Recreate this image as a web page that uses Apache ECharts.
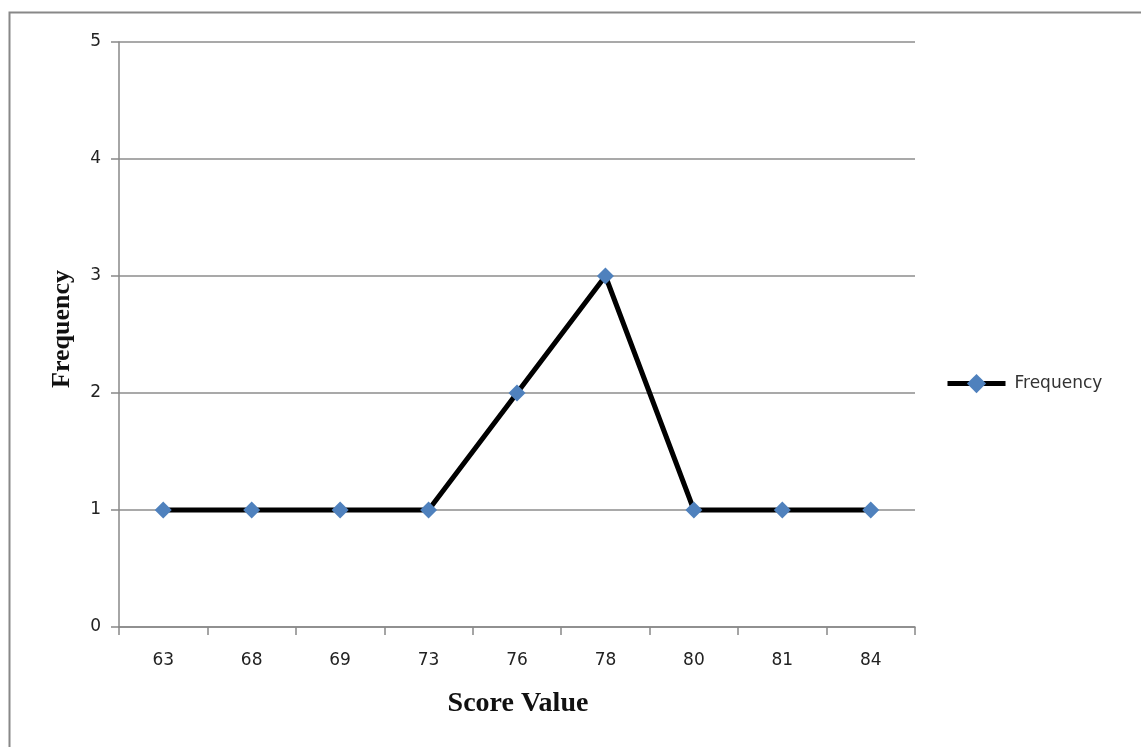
<!DOCTYPE html>
<html>
<head>
<meta charset="utf-8">
<script src="https://cdn.jsdelivr.net/npm/echarts@6/dist/echarts.min.js"></script>
<style>html,body{margin:0;padding:0;background:#fff}#c{width:1141px;height:747px}</style>
</head>
<body>
<div id="c"></div>
<script>
const categories = ['63', '68', '69', '73', '76', '78', '80', '81', '84'];
const frequency = [1, 1, 1, 1, 2, 3, 1, 1, 1];
const seriesName = 'Frequency';
const xTitle = 'Score Value';
const yTitle = 'Frequency';

const chart = echarts.init(document.getElementById('c'), null, {renderer: 'canvas'});
chart.setOption({
  backgroundColor: '#fff',
  animation: false,
  graphic: [{
    type: 'rect', shape: {x: 9.5, y: 12.5, width: 1200, height: 800},
    style: {fill: 'none', stroke: '#888', lineWidth: 2}, silent: true, z: -1
  }, {
    type: 'text', x: 518, y: 704,
    style: {text: xTitle, font: 'bold 28px "Liberation Serif"', fill: '#111', align: 'center', verticalAlign: 'middle'}
  }, {
    type: 'text', x: 62, y: 329, rotation: Math.PI / 2,
    style: {text: yTitle, font: 'bold 26px "Liberation Serif"', fill: '#111', align: 'center', verticalAlign: 'middle'}
  }],
  grid: {left: 119, right: 226, top: 42, bottom: 120, containLabel: false},
  legend: {
    show: true, orient: 'vertical', left: 940, top: 369,
    itemWidth: 58, itemHeight: 24, itemGap: 4,
    lineStyle: {width: 5, color: '#000'},
    itemStyle: {color: '#4F81BD'},
    textStyle: {fontFamily: 'DejaVu Sans', fontSize: 17, color: '#333', padding: [0, 0, 0, 4]},
    data: [seriesName]
  },
  xAxis: {
    type: 'category', data: categories, boundaryGap: true,
    axisLine: {lineStyle: {color: '#888', width: 1.5}},
    axisTick: {show: true, length: 8, alignWithLabel: false, lineStyle: {color: '#888', width: 1.5}},
    axisLabel: {fontFamily: 'DejaVu Sans', fontSize: 17, color: '#222', margin: 25},
    splitLine: {show: false}
  },
  yAxis: {
    type: 'value', min: 0, max: 5, interval: 1,
    axisLine: {show: true, lineStyle: {color: '#888', width: 1.5}},
    axisTick: {show: true, length: 8, lineStyle: {color: '#888', width: 1.5}},
    axisLabel: {fontFamily: 'DejaVu Sans', fontSize: 17, color: '#222', margin: 18},
    splitLine: {show: true, lineStyle: {color: '#8c8c8c', width: 1.5}}
  },
  series: [{
    name: seriesName, type: 'line', data: frequency,
    symbol: 'diamond', symbolSize: 17,
    lineStyle: {color: '#000', width: 5},
    itemStyle: {color: '#4F81BD'},
    z: 3
  }]
});
</script>
</body>
</html>
